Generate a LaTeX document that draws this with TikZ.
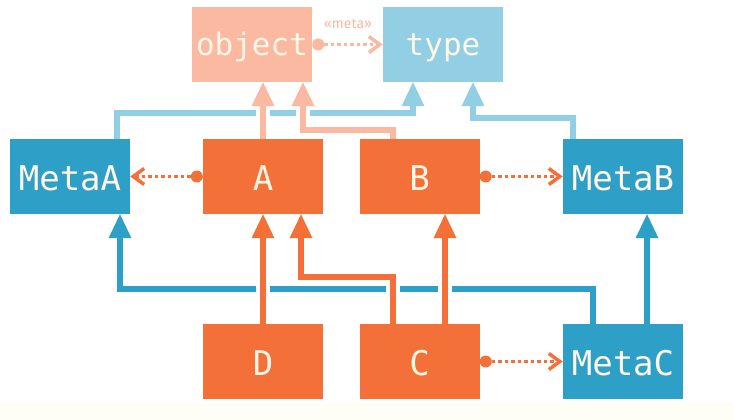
\documentclass[tikz,border=0pt]{standalone}
\usepackage{fontspec}
\usetikzlibrary{arrows.meta,calc}
\newfontfamily\boxfont{DejaVu Sans Mono}
\newfontfamily\lblfont{Fira Sans}
\definecolor{orng}{HTML}{F37038}
\definecolor{dblue}{HTML}{2EA0C7}
\definecolor{lblue}{HTML}{92CFE4}
\definecolor{salm}{HTML}{FAB9A0}
\definecolor{txtc}{HTML}{FFF6E6}
\definecolor{cream}{HTML}{FEFDF6}
\begin{document}
\begin{tikzpicture}[x=1pt,y=-1pt,
  box/.style={minimum width=120pt,minimum height=75pt,inner sep=0pt,text=txtc,
    font=\boxfont\fontsize{34}{34}\selectfont,text height=27pt,text depth=0pt},
  topbox/.style={box,font=\boxfont\fontsize{31}{31}\selectfont,text height=22pt},
  inh/.style={line width=5.5pt,-{Triangle[length=24pt,width=23pt,line width=0pt]}},
  over/.style={preaction={draw=white,line width=14pt,-}},
  metaarr/.style={line width=3.5pt,dash pattern=on 3.5pt off 3pt,
    {Circle[length=12pt,line width=0pt]}-{Straight Barb[length=11pt,width=16pt]}},
]
\useasboundingbox (0,0) rectangle (733,420);
\fill[white] (0,0) rectangle (733,402);
\fill[cream] (0,402) rectangle (733,420);

\node[topbox,fill=salm] (object) at (252,44.5) {object};
\node[topbox,fill=lblue] (type) at (443,44.5) {type};
\node[box,fill=dblue] (MetaA) at (70,176.5) {MetaA};
\node[box,fill=orng] (A) at (263,176.5) {A};
\node[box,fill=orng] (B) at (419.5,176.5) {B};
\node[box,fill=dblue] (MetaB) at (623,176.5) {MetaB};
\node[box,fill=orng] (D) at (263,361.5) {D};
\node[box,fill=orng] (C) at (419.5,361.5) {C};
\node[box,fill=dblue] (MetaC) at (623,361.5) {MetaC};

% light blue inheritance to type
\draw[inh,lblue] ([xshift=47pt]MetaA.north) -- ++(0,-26) -| ([xshift=-30pt]type.south);
\draw[inh,lblue] ([xshift=-50pt]MetaB.north) -- ++(0,-21) -| ([xshift=30pt]type.south);
% salmon inheritance to object
\draw[inh,salm,over] (A.north) -- (A.north |- object.south);
\draw[inh,salm,over] ([xshift=-26.5pt]B.north) -- ++(0,-9) -| ([xshift=51pt]object.south);
% dark blue
\draw[inh,dblue] ([xshift=-30pt]MetaC.north) -- ++(0,-35) -| ([xshift=50pt]MetaA.south);
\draw[inh,dblue] ([xshift=24pt]MetaC.north) -- ([xshift=24pt]MetaB.south);
% orange
\draw[inh,orng,over] (D.north) -- (A.south);
\draw[inh,orng,over] ([xshift=-26.5pt]C.north) -- ++(0,-47) -| ([xshift=38pt]A.south);
\draw[inh,orng,over] ([xshift=25.5pt]C.north) -- ([xshift=25.5pt]B.south);

% meta relations
\draw[metaarr,salm] (object.east) -- (type.west);
\draw[metaarr,orng] (A.west) -- (MetaA.east);
\draw[metaarr,orng] (B.east) -- (MetaB.west);
\draw[metaarr,orng] (C.east) -- (MetaC.west);
\node[font=\lblfont\fontsize{14}{14}\selectfont,text=salm,inner sep=0pt] (metalbl) at (348,24) {«meta»};
\end{tikzpicture}
\end{document}
